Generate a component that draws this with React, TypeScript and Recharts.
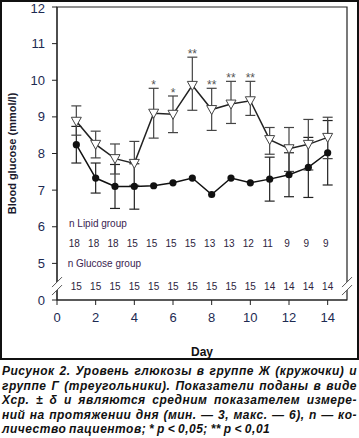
import {
  ComposedChart,
  Line,
  Scatter,
  XAxis,
  YAxis,
  ErrorBar,
  ReferenceArea,
  ReferenceDot,
} from "recharts";

// дни наблюдения
const days = [1, 2, 3, 4, 5, 6, 7, 8, 9, 10, 11, 12, 13, 14];

// группа Ж (треугольники) — Lipid group
const lipidMean = [8.88, 8.25, 7.86, 7.73, 9.1, 9.07, 9.86, 9.2, 9.35, 9.44, 8.38, 8.13, 8.25, 8.44];
const lipidErrLow = [0.38, 0.37, 0.42, 0.6, 0.68, 0.5, 0.68, 0.57, 0.53, 0.4, 0.4, 0.62, 0.7, 0.58];
const lipidErrHigh = [0.42, 0.36, 0.4, 0.6, 0.68, 0.5, 0.77, 0.58, 0.62, 0.53, 0.33, 0.58, 0.68, 0.55];

// группа Г (кружочки) — Glucose group
const glucoseMean = [8.24, 7.33, 7.1, 7.1, 7.12, 7.2, 7.33, 6.88, 7.33, 7.2, 7.3, 7.42, 7.62, 8.02];
const glucoseErr = [0.5, 0.41, 0.6, 0.62, null, null, null, null, null, null, 0.6, 0.6, 0.82, 0.88];

// значимость
const significance = ["", "", "", "", "*", "*", "**", "**", "**", "**", "", "", "", ""];

// количество пациентов
const lipidN = [18, 18, 18, 15, 15, 15, 15, 13, 13, 12, 11, 9, 9, 9];
const glucoseN = [15, 15, 15, 15, 15, 15, 15, 15, 15, 15, 14, 14, 14, 14];

const xTicks = [0, 2, 4, 6, 8, 10, 12, 14];
const yTicks = [4, 5, 6, 7, 8, 9, 10, 11, 12];

const captionLines = [
  "Рисунок 2. Уровень глюкозы в группе Ж (кружочки) и",
  "группе Г (треугольники). Показатели поданы в виде",
  "Xср. ± δ и являются средним показателем измере-",
  "ний на протяжении дня (мин. — 3, макс. — 6), n — ко-",
  "личество пациентов; * p < 0,05; ** p < 0,01",
];

// строки с n внутри графика (в единицах оси, ось разорвана: 4 -> "0")
const LIPID_ROW = 5.53;
const GLUCOSE_ROW = 4.38;

const data = days.map((day, i) => ({
  day,
  lipid: lipidMean[i],
  lipidErr: [lipidErrLow[i], lipidErrHigh[i]],
  glucose: glucoseMean[i],
  glucoseErr: glucoseErr[i],
  sigY: lipidMean[i] + lipidErrHigh[i],
  sig: significance[i],
  lipidN: lipidN[i],
  glucoseN: glucoseN[i],
  lipidRow: LIPID_ROW,
  glucoseRow: GLUCOSE_ROW,
}));

const sigData = data.filter((d) => d.sig);

const textColor = "#1d2a52";

const Triangle = (p: any) => (
  <polygon
    key={`t${p.index}`}
    points={`${p.cx - 5},${p.cy - 4} ${p.cx + 5},${p.cy - 4} ${p.cx},${p.cy + 5}`}
    fill="#fff"
    stroke="#444"
    strokeWidth={1}
  />
);

const Dot = (p: any) => <circle key={`c${p.index}`} cx={p.cx} cy={p.cy} r={3.6} fill="#111" />;

const BreakMark = (p: any) => (
  <g>
    <polygon
      points={`${p.cx - 5},${p.cy + 1} ${p.cx + 5},${p.cy - 9} ${p.cx + 5},${p.cy - 1} ${p.cx - 5},${p.cy + 9}`}
      fill="#fff"
    />
    <line x1={p.cx - 5} y1={p.cy + 1} x2={p.cx + 5} y2={p.cy - 9} stroke="#555" strokeWidth={1} />
    <line x1={p.cx - 5} y1={p.cy + 9} x2={p.cx + 5} y2={p.cy - 1} stroke="#555" strokeWidth={1} />
  </g>
);

const App = () => {
  return (
    <div style={{ position: "absolute", left: 0, top: 0, width: 359, height: 438, background: "#fff" }}>
      <div
        style={{
          position: "absolute",
          left: 0,
          top: 0,
          width: 359,
          height: 360,
          border: "2px solid #111",
          boxSizing: "border-box",
        }}
      />
      <div style={{ position: "absolute", left: 0, top: 0 }}>
        <ComposedChart
          width={359}
          height={360}
          data={data}
          margin={{ top: 7, right: 12, bottom: 0, left: 0 }}
          style={{ fontFamily: "'Liberation Sans', Arial, sans-serif" }}
        >
          <XAxis
            dataKey="day"
            type="number"
            domain={[0, 15]}
            ticks={xTicks}
            tickSize={5}
            tickMargin={8}
            height={60}
            stroke="#222"
            tick={{ fill: textColor, fontSize: 13 }}
            label={{
              value: "Day",
              position: "insideBottom",
              offset: 4,
              style: { fontWeight: "bold", fontSize: 12, fill: "#111" },
            }}
          />
          <YAxis
            type="number"
            domain={[4, 12]}
            ticks={yTicks}
            tickFormatter={(v: number) => (v === 4 ? "0" : String(v))}
            width={57}
            tickSize={5}
            tickMargin={7}
            stroke="#222"
            tick={{ fill: textColor, fontSize: 13 }}
            label={{
              value: "Blood glucose (mmol/l)",
              angle: -90,
              position: "insideLeft",
              offset: 12,
              style: { textAnchor: "middle", fontWeight: "bold", fontSize: 11, fill: "#1a1a2e" },
            }}
          />
          <ReferenceArea
            x1={0}
            x2={15}
            y1={4}
            y2={12}
            fill="none"
            stroke="#222"
            strokeWidth={1.2}
            ifOverflow="visible"
          />
          <ReferenceDot x={0} y={GLUCOSE_ROW} ifOverflow="visible" shape={BreakMark} />
          <ReferenceDot x={15} y={GLUCOSE_ROW} ifOverflow="visible" shape={BreakMark} />
          <ReferenceDot
            x={0.62}
            y={6.1}
            ifOverflow="visible"
            shape={(p: any) => (
              <text x={p.cx} y={p.cy} dy="0.35em" fontSize={10} fill="#3a2450">
                n Lipid group
              </text>
            )}
          />
          <ReferenceDot
            x={0.55}
            y={5.0}
            ifOverflow="visible"
            shape={(p: any) => (
              <text x={p.cx} y={p.cy} dy="0.35em" fontSize={10} fill="#3a2450">
                n Glucose group
              </text>
            )}
          />
          <Scatter
            data={data}
            dataKey="lipidRow"
            isAnimationActive={false}
            shape={(p: any) => (
              <text x={p.cx - 2} y={p.cy} dy="0.35em" textAnchor="middle" fontSize={10} fill="#2d2440">
                {p.payload.lipidN}
              </text>
            )}
          />
          <Scatter
            data={data}
            dataKey="glucoseRow"
            isAnimationActive={false}
            shape={(p: any) => (
              <text x={p.cx} y={p.cy} dy="0.35em" textAnchor="middle" fontSize={10} fill="#2d2440">
                {p.payload.glucoseN}
              </text>
            )}
          />
          <Line
            dataKey="glucose"
            stroke="#111"
            strokeWidth={1.5}
            dot={Dot}
            activeDot={false}
            isAnimationActive={false}
          >
            <ErrorBar dataKey="glucoseErr" direction="y" width={5} stroke="#222" strokeWidth={1.2} />
          </Line>
          <Line
            dataKey="lipid"
            stroke="#222"
            strokeWidth={1.5}
            dot={Triangle}
            activeDot={false}
            isAnimationActive={false}
          >
            <ErrorBar dataKey="lipidErr" direction="y" width={5} stroke="#444" strokeWidth={1.2} />
          </Line>
          <Scatter
            data={sigData}
            dataKey="sigY"
            isAnimationActive={false}
            shape={(p: any) => (
              <text x={p.cx} y={p.cy} dy={1} textAnchor="middle" fontSize={12} fill="#555">
                {p.payload.sig}
              </text>
            )}
          />
        </ComposedChart>
      </div>
      <div
        style={{
          position: "absolute",
          left: 2,
          top: 364,
          width: 355,
          fontFamily: "'Liberation Sans', Arial, sans-serif",
          fontWeight: "bold",
          fontStyle: "italic",
          fontSize: 12,
          lineHeight: "14.5px",
          color: "#111",
          letterSpacing: 0.5,
          wordSpacing: -1,
        }}
      >
        {captionLines.map((line, i) => (
          <div
            key={i}
            style={{
              whiteSpace: "nowrap",
              textAlign: i < captionLines.length - 1 ? "justify" : "left",
              textAlignLast: i < captionLines.length - 1 ? "justify" : "left",
            }}
          >
            {line}
          </div>
        ))}
      </div>
    </div>
  );
};

export default App;
